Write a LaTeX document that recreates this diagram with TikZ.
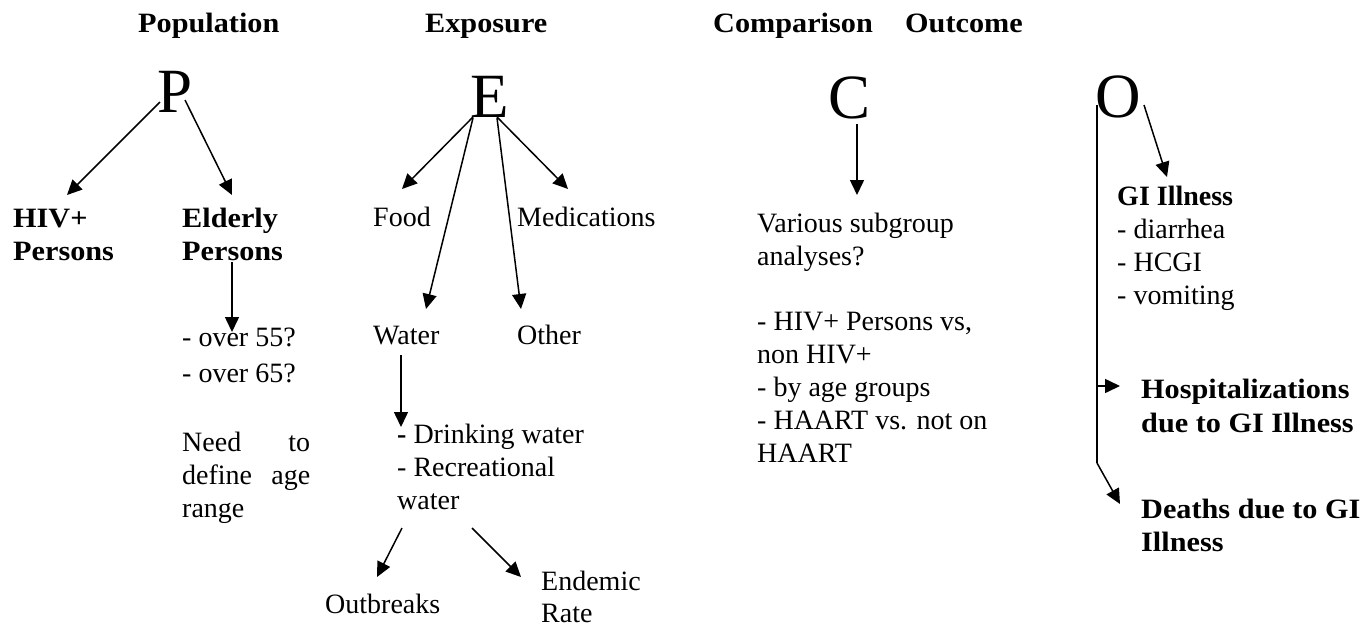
\documentclass[tikz,border=0pt]{standalone}
\usepackage{fontspec}
\setmainfont{Liberation Serif}
\newfontfamily\boldwide[FakeStretch=1.08]{Liberation Serif}
\usetikzlibrary{arrows.meta,calc}

\begin{document}
% Multi-line nodes are placed by the baseline of their last line.
\begin{tikzpicture}[x=1pt,y=-1pt,
  txt/.style={anchor=base west, align=left, inner sep=0pt,
    font=\fontsize{28}{33}\selectfont},
  bold/.style={txt, font=\boldwide\bfseries\fontsize{28}{33}\selectfont},
  letter/.style={anchor=base, inner sep=0pt, font=\fontsize{63}{70}\selectfont},
  arr/.style={line width=1.5pt, -{Triangle[length=15pt,width=14pt]}},
  trunk/.style={line width=1.6pt}]
\useasboundingbox (0,0) rectangle (1364,627);

% headings
\node[bold] (hP) at (138,32) {Population};
\node[bold] (hE) at (425,32) {Exposure};
\node[bold] (hC) at (713,32) {Comparison};
\node[bold] (hO) at (905,32) {Outcome};

% the four letters
\node[letter] (P) at (175,112) {P};
\node[letter] (E) at (490,117) {E};
\node[letter] (C) at (849,118) {C};
\node[letter] (O) at (1118,117) {O};

% Population
\node[bold] (hiv) at (13,260) {HIV+\\Persons};
\node[bold] (eld) at (182,260) {Elderly\\Persons};
\node[txt, font=\fontsize{28}{36}\selectfont] (ages) at (182,382) {- over 55?\\- over 65?};
\node[txt] (need) at (182,517) {\makebox[128pt][s]{Need to}\\\makebox[128pt][s]{define age}\\range};

\draw[arr] ($(P.base)+(-15,-10)$) -- ($(hiv.base west)+(54,-65)$);
\draw[arr] ($(P.base)+(10,-12)$) -- ($(eld.base west)+(50,-65)$);
\draw[arr] ($(eld.base west)+(50,2)$) -- ($(ages.base west)+(50,-50)$);

% Exposure
\node[txt] (food) at (373,226) {Food};
\node[txt] (med) at (517,226) {Medications};
\node[txt] (water) at (373,344) {Water};
\node[txt] (other) at (517,344) {Other};
\node[txt] (drink) at (397,509) {\textbf{-} Drinking water\\- Recreational\\water};
\node[txt] (outb) at (325,613) {Outbreaks};
\node[txt, font=\fontsize{28}{32}\selectfont] (endem) at (541,622) {Endemic\\Rate};

\draw[arr] ($(E.base)+(-17,0)$) -- ($(food.base west)+(29,-37)$);
\draw[arr] ($(E.base)+(-17,1)$) -- ($(water.base west)+(53,-35)$);
\draw[arr] ($(E.base)+(7,1)$) -- ($(other.base west)+(4,-35)$);
\draw[arr] ($(E.base)+(7,0)$) -- ($(med.base west)+(51,-37)$);
\draw[arr] ($(water.base west)+(28,11)$) -- ($(drink.base west)+(4,-82)$);
\draw[arr] ($(drink.base west)+(5,19)$) -- ($(outb.base west)+(52,-36)$);
\draw[arr] ($(drink.base west)+(75,19)$) -- ($(endem.base west)+(-20,-45)$);

% Comparison
\node[txt] (var) at (757,265) {Various subgroup\\analyses?};
\node[txt] (sub) at (757,462) {- HIV+ Persons vs,\\non HIV+\\- by age groups\\- HAART vs. not on\\HAART};
\draw[arr] ($(C.base)+(8,6)$) -- ($(var.base west)+(100,-70)$);

% Outcome
\node[txt] (gi) at (1117,304) {\textbf{GI Illness}\\- diarrhea\\- HCGI\\- vomiting};
\node[bold, font=\boldwide\bfseries\fontsize{28}{34}\selectfont] (hosp) at (1141,432) {Hospitalizations\\due to GI Illness};
\node[bold] (death) at (1141,551) {Deaths due to GI\\Illness};

\coordinate (top) at ($(O.base)+(-21,-12)$);
\coordinate (fork) at (1097,463);
\coordinate (branch) at (1097,386);
\draw[trunk] (top) -- (fork);
\draw[arr] ($(O.base)+(26,-12)$) -- ($(gi.base west)+(50,-127)$);
\draw[arr] (branch) -- ($(hosp.base west)+(-21,-46)$);
\draw[arr] (fork) -- ($(death.base west)+(-21,-47)$);
\end{tikzpicture}
\end{document}
